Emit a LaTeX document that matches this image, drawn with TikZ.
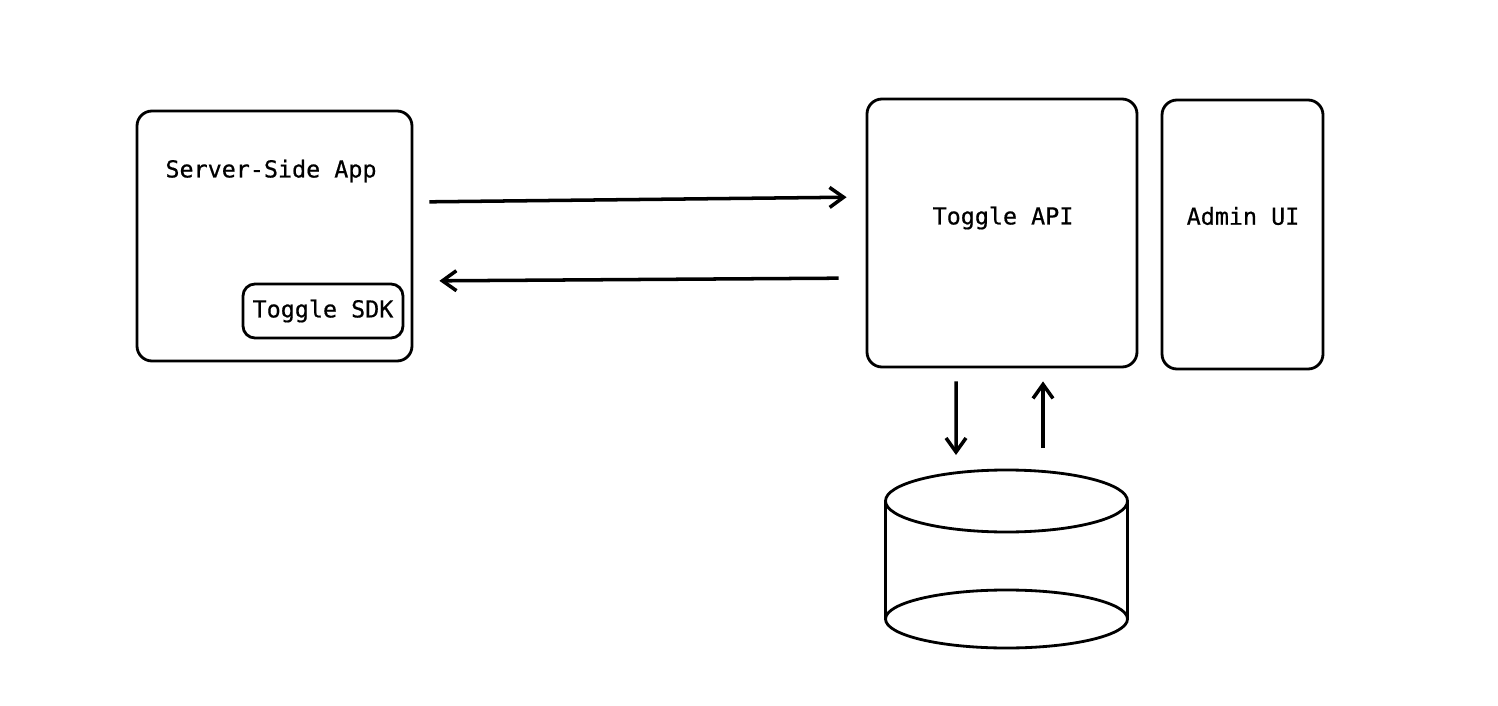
\documentclass[tikz,border=0pt]{standalone}
\usepackage{fontspec}
\setmonofont[FakeBold=0.6]{DejaVu Sans Mono}
\usetikzlibrary{arrows.meta,positioning}

\begin{document}
\begin{tikzpicture}[
		box/.style={draw, line width=1.6pt, rounded corners=0.3cm, inner sep=0pt},
		label/.style={font=\ttfamily\fontsize{13.3}{16}\selectfont},
		arr/.style={line width=2pt, -{Straight Barb[length=2.8mm, width=4mm]}}
	]
		%%%%% START %%%%%
		
		\useasboundingbox (0, 0) rectangle (29.96, -14.12);
		
		\node[box, minimum width=5.5cm, minimum height=5cm] (app) at (5.49, -4.72) {};
		\node[label] (applabel) at (5.42, -3.42) {Server-Side App};
		\node[box, label, rounded corners=0.24cm, minimum width=3.2cm, minimum height=1.08cm] (sdk) at (6.46, -6.22) {Toggle SDK};
		
		\node[box, minimum width=5.4cm, minimum height=5.36cm] (api) at (20.04, -4.66) {};
		\node[label] (apilabel) at (20.06, -4.36) {Toggle API};
		
		\node[box, minimum width=3.22cm, minimum height=5.38cm] (admin) at (24.85, -4.69) {};
		\node[label] (adminlabel) at (24.86, -4.32) {Admin UI};
		
		\draw[arr, shorten <=0.32cm, shorten >=0.38cm] ([yshift=0.68cm]app.east) -- ([yshift=0.72cm]api.west);
		\draw[arr, shorten <=0.54cm, shorten >=0.52cm] ([yshift=-0.9cm]api.west) -- ([yshift=-0.9cm]app.east);
		
		% database
		\coordinate (dbtop) at (20.13, -10.02);
		\coordinate (dbbot) at (20.13, -12.38);
		\draw[line width=1.6pt] (dbtop) ellipse (2.42 and 0.62);
		\draw[line width=1.6pt] (dbbot) ellipse (2.42 and 0.58);
		\draw[line width=1.6pt] ([xshift=-2.42cm]dbtop) -- ([xshift=-2.42cm]dbbot);
		\draw[line width=1.6pt] ([xshift=2.42cm]dbtop) -- ([xshift=2.42cm]dbbot);
		
		\draw[arr, shorten <=0.26cm, shorten >=0.3cm] ([xshift=-0.92cm]api.south) -- ([xshift=-1.01cm, yshift=0.62cm]dbtop);
		\draw[arr, shorten <=0.44cm, shorten >=0.26cm] ([xshift=0.73cm, yshift=0.62cm]dbtop) -- ([xshift=0.82cm]api.south);
		
		%%%%% END %%%%%
	\end{tikzpicture}
\end{document}
